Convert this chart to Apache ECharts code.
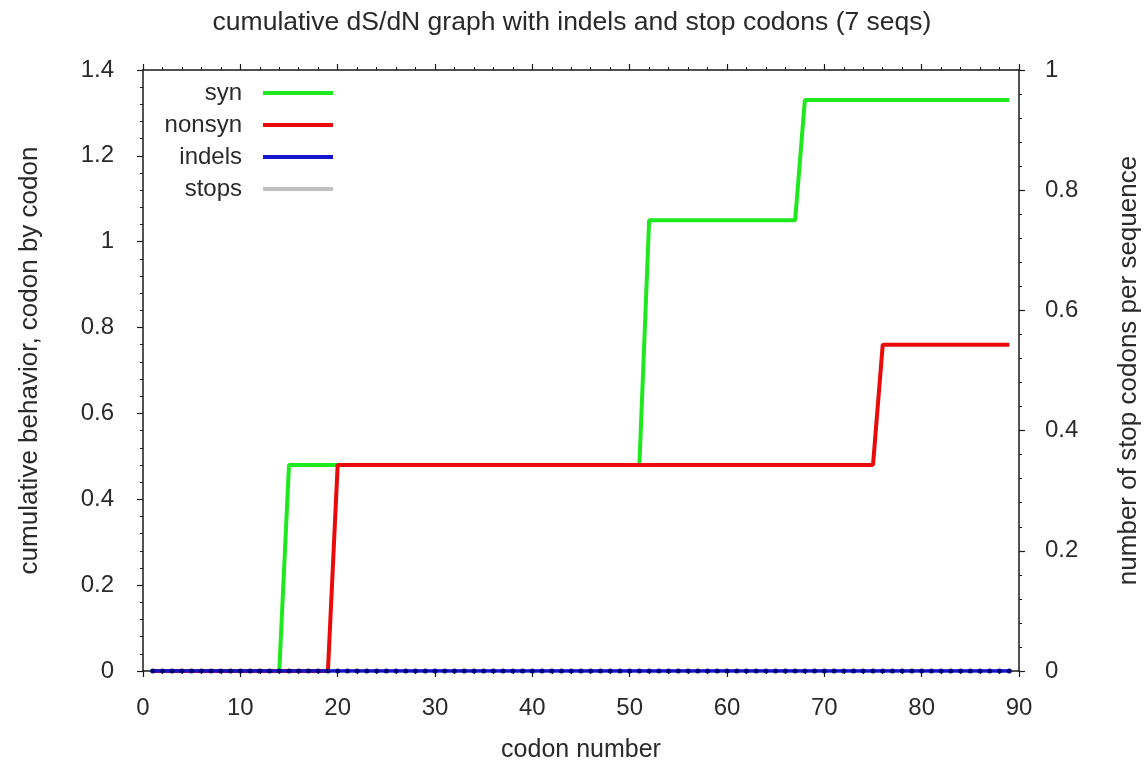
<!DOCTYPE html>
<html>
<head>
<meta charset="utf-8">
<script src="https://cdn.jsdelivr.net/npm/echarts@6/dist/echarts.min.js"></script>
<style>
  html, body { margin: 0; padding: 0; background: #fff; }
  #chart { width: 1144px; height: 772px; }
</style>
</head>
<body>
<div id="chart"></div>
<script>
// ---- data ----
const codons = [
  1, 2, 3, 4, 5, 6, 7, 8, 9, 10,
  11, 12, 13, 14, 15, 16, 17, 18, 19, 20,
  21, 22, 23, 24, 25, 26, 27, 28, 29, 30,
  31, 32, 33, 34, 35, 36, 37, 38, 39, 40,
  41, 42, 43, 44, 45, 46, 47, 48, 49, 50,
  51, 52, 53, 54, 55, 56, 57, 58, 59, 60,
  61, 62, 63, 64, 65, 66, 67, 68, 69, 70,
  71, 72, 73, 74, 75, 76, 77, 78, 79, 80,
  81, 82, 83, 84, 85, 86, 87, 88, 89
];
const syn = [
  0, 0, 0, 0, 0, 0, 0, 0, 0, 0,
  0, 0, 0, 0, 0.48, 0.48, 0.48, 0.48, 0.48, 0.48,
  0.48, 0.48, 0.48, 0.48, 0.48, 0.48, 0.48, 0.48, 0.48, 0.48,
  0.48, 0.48, 0.48, 0.48, 0.48, 0.48, 0.48, 0.48, 0.48, 0.48,
  0.48, 0.48, 0.48, 0.48, 0.48, 0.48, 0.48, 0.48, 0.48, 0.48,
  0.48, 1.05, 1.05, 1.05, 1.05, 1.05, 1.05, 1.05, 1.05, 1.05,
  1.05, 1.05, 1.05, 1.05, 1.05, 1.05, 1.05, 1.33, 1.33, 1.33,
  1.33, 1.33, 1.33, 1.33, 1.33, 1.33, 1.33, 1.33, 1.33, 1.33,
  1.33, 1.33, 1.33, 1.33, 1.33, 1.33, 1.33, 1.33, 1.33
];
const nonsyn = [
  0, 0, 0, 0, 0, 0, 0, 0, 0, 0,
  0, 0, 0, 0, 0, 0, 0, 0, 0, 0.48,
  0.48, 0.48, 0.48, 0.48, 0.48, 0.48, 0.48, 0.48, 0.48, 0.48,
  0.48, 0.48, 0.48, 0.48, 0.48, 0.48, 0.48, 0.48, 0.48, 0.48,
  0.48, 0.48, 0.48, 0.48, 0.48, 0.48, 0.48, 0.48, 0.48, 0.48,
  0.48, 0.48, 0.48, 0.48, 0.48, 0.48, 0.48, 0.48, 0.48, 0.48,
  0.48, 0.48, 0.48, 0.48, 0.48, 0.48, 0.48, 0.48, 0.48, 0.48,
  0.48, 0.48, 0.48, 0.48, 0.48, 0.76, 0.76, 0.76, 0.76, 0.76,
  0.76, 0.76, 0.76, 0.76, 0.76, 0.76, 0.76, 0.76, 0.76
];
const indels = [
  0, 0, 0, 0, 0, 0, 0, 0, 0, 0,
  0, 0, 0, 0, 0, 0, 0, 0, 0, 0,
  0, 0, 0, 0, 0, 0, 0, 0, 0, 0,
  0, 0, 0, 0, 0, 0, 0, 0, 0, 0,
  0, 0, 0, 0, 0, 0, 0, 0, 0, 0,
  0, 0, 0, 0, 0, 0, 0, 0, 0, 0,
  0, 0, 0, 0, 0, 0, 0, 0, 0, 0,
  0, 0, 0, 0, 0, 0, 0, 0, 0, 0,
  0, 0, 0, 0, 0, 0, 0, 0, 0
];
const stops = [
  0, 0, 0, 0, 0, 0, 0, 0, 0, 0,
  0, 0, 0, 0, 0, 0, 0, 0, 0, 0,
  0, 0, 0, 0, 0, 0, 0, 0, 0, 0,
  0, 0, 0, 0, 0, 0, 0, 0, 0, 0,
  0, 0, 0, 0, 0, 0, 0, 0, 0, 0,
  0, 0, 0, 0, 0, 0, 0, 0, 0, 0,
  0, 0, 0, 0, 0, 0, 0, 0, 0, 0,
  0, 0, 0, 0, 0, 0, 0, 0, 0, 0,
  0, 0, 0, 0, 0, 0, 0, 0, 0
];
const seriesNames = ['syn', 'nonsyn', 'indels', 'stops'];
const titleText = 'cumulative dS/dN graph with indels and stop codons (7 seqs)';
const xName = 'codon number';
const yLeftName = 'cumulative behavior, codon by codon';
const yRightName = 'number of stop codons per sequence';

// ---- chart ----
const FONT = '"Liberation Sans", Arial, sans-serif';
const TXT = '#2a2a2a';
const C_SYN = '#1ee81e', C_NON = '#ea0a0a', C_IND = '#1414cc', C_STOP = '#c0c0c0';
function pairs(vals) { return codons.map((c, i) => [c, vals[i]]); }

const axisLine = { show: true, onZero: false, lineStyle: { color: '#1a1a1a', width: 1.5 } };
const axisTick = { show: true, inside: false, length: 6, lineStyle: { color: '#1a1a1a', width: 1.2 } };
const minorTick = { show: true, splitNumber: 5, length: 3, lineStyle: { color: '#1a1a1a', width: 1 } };
const labelStyle = { color: TXT, fontFamily: FONT, fontSize: 24 };

const chart = echarts.init(document.getElementById('chart'), null, { renderer: 'canvas' });
chart.setOption({
  animation: false,
  backgroundColor: '#ffffff',
  title: {
    text: titleText,
    left: 'center',
    top: 4,
    textStyle: { color: TXT, fontFamily: FONT, fontSize: 26.5, fontWeight: 'normal' }
  },
  legend: {
    orient: 'vertical',
    align: 'right',
    right: 806,
    top: 76,
    itemWidth: 70,
    itemHeight: 4,
    itemGap: 8,
    icon: 'rect',
    data: [
      { name: seriesNames[0], itemStyle: { color: C_SYN } },
      { name: seriesNames[1], itemStyle: { color: C_NON } },
      { name: seriesNames[2], itemStyle: { color: C_IND } },
      { name: seriesNames[3], itemStyle: { color: C_STOP } }
    ],
    textStyle: { color: TXT, fontFamily: FONT, fontSize: 24, padding: [0, 16, 0, 0] }
  },
  grid: { left: 143, right: 125, top: 70, bottom: 101, containLabel: false, outerBoundsMode: 'none' },
  xAxis: [{
    type: 'value', min: 0, max: 90, interval: 10, position: 'bottom',
    name: xName, nameLocation: 'middle', nameGap: 67,
    nameTextStyle: { color: TXT, fontFamily: FONT, fontSize: 25 },
    axisLine, axisTick, minorTick,
    axisLabel: Object.assign({ margin: 25 }, labelStyle),
    splitLine: { show: false }
  }, {
    type: 'value', min: 0, max: 90, interval: 10, position: 'top',
    axisLine, axisTick, minorTick,
    axisLabel: { show: false },
    splitLine: { show: false }
  }],
  yAxis: [{
    type: 'value', min: 0, max: 1.4, interval: 0.2, position: 'left',
    name: yLeftName, nameLocation: 'middle', nameGap: 100,
    nameTextStyle: { color: TXT, fontFamily: FONT, fontSize: 26, padding: [0, 0, 0, 20] },
    axisLine, axisTick, minorTick,
    axisLabel: Object.assign({ margin: 29 }, labelStyle),
    splitLine: { show: false }
  }, {
    type: 'value', min: 0, max: 1, interval: 0.2, position: 'right',
    name: yRightName, nameLocation: 'middle', nameGap: 97,
    nameTextStyle: { color: TXT, fontFamily: FONT, fontSize: 26 },
    axisLine, axisTick, minorTick,
    axisLabel: Object.assign({ margin: 26 }, labelStyle),
    splitLine: { show: false }
  }],
  series: [{
    name: 'syn', type: 'line', xAxisIndex: 0, yAxisIndex: 0, z: 3,
    data: pairs(syn), showSymbol: false, symbol: 'none',
    color: C_SYN, lineStyle: { color: C_SYN, width: 4 }
  }, {
    name: 'nonsyn', type: 'line', xAxisIndex: 0, yAxisIndex: 0, z: 4,
    data: pairs(nonsyn), showSymbol: false, symbol: 'none',
    color: C_NON, lineStyle: { color: C_NON, width: 4 }
  }, {
    name: 'indels', type: 'line', xAxisIndex: 0, yAxisIndex: 0, z: 5,
    data: pairs(indels), symbol: 'circle', symbolSize: 5, showSymbol: true,
    color: C_IND,
    itemStyle: { color: '#00007a' },
    lineStyle: { color: C_IND, width: 3.5 }
  }, {
    name: 'stops', type: 'line', xAxisIndex: 0, yAxisIndex: 1, z: 2,
    data: pairs(stops), showSymbol: false, symbol: 'none',
    color: C_STOP, lineStyle: { color: C_STOP, width: 4 }
  }]
});
</script>
</body>
</html>
